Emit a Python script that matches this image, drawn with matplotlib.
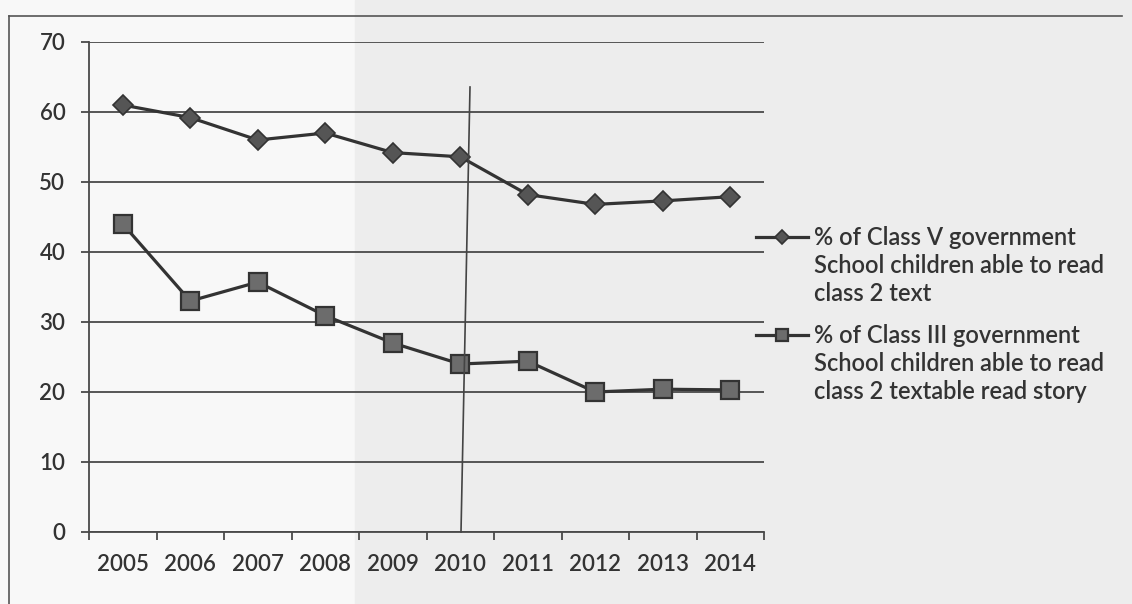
import matplotlib.pyplot as plt
from matplotlib.lines import Line2D
from matplotlib.patches import Rectangle
from matplotlib.legend_handler import HandlerLine2D
import matplotlib.transforms as mtransforms

years = ['2005', '2006', '2007', '2008', '2009', '2010', '2011', '2012', '2013', '2014']
class5 = [61.0, 59.2, 56.0, 57.0, 54.2, 53.6, 48.2, 46.8, 47.3, 47.9]
class3 = [44.0, 33.0, 35.7, 30.9, 27.0, 24.0, 24.4, 20.0, 20.4, 20.3]
label5 = '% of Class V government\nSchool children able to read\nclass 2 text'
label3 = '% of Class III government\nSchool children able to read\nclass 2 textable read story'

ink = '#333333'
txt = '#333333'
plt.rcParams['font.family'] = ['Lato', 'DejaVu Sans']
plt.rcParams['font.weight'] = 'semibold'

W, H = 1132, 604
fig = plt.figure(figsize=(W / 100, H / 100), dpi=100)
fig.patch.set_facecolor('#f8f8f8')

# page shading + frame around the chart
fig.add_artist(Rectangle((355 / W, 0), 1 - 355 / W, 1, transform=fig.transFigure,
                         color='#ededed', zorder=-5))
fig.add_artist(Line2D([9 / W, 1122 / W], [1 - 16 / H, 1 - 16 / H], transform=fig.transFigure,
                      color='#555555', lw=1.2))
fig.add_artist(Line2D([9 / W, 9 / W], [1 - 16 / H, 0], transform=fig.transFigure,
                      color='#555555', lw=1.2))

ax = fig.add_axes([89 / W, 1 - 532 / H, (764 - 89) / W, (532 - 42) / H])
ax.patch.set_alpha(0)

x = range(len(years))
ax.plot(x, class5, color=ink, lw=2.3, marker='D', ms=10, mfc='#555555', mec=ink, mew=1.2,
        label=label5, zorder=3)
ax.plot(x, class3, color=ink, lw=2.3, marker='s', ms=12.5, mfc='#6c6c6c', mec=ink, mew=1.6,
        label=label3, zorder=3)

ax.set_xlim(-0.5, len(years) - 0.5)
ax.set_ylim(0, 70)
ax.set_yticks(range(0, 71, 10))
ax.yaxis.grid(True, color='#4a4a4a', lw=1.3)
ax.set_axisbelow(True)
ax.set_xticks(list(x))
ax.set_xticklabels(years)
ax.set_xticks([i - 0.5 for i in range(len(years) + 1)], minor=True)
ax.tick_params(axis='x', which='major', length=0, pad=16, labelsize=16, labelcolor=txt)
ax.tick_params(axis='x', which='minor', length=6, width=1.3, color='#4a4a4a', direction='out')
ax.tick_params(axis='y', length=6, width=1.3, color='#4a4a4a', pad=11, labelsize=16,
               labelcolor=txt)
for s in ['top', 'right']:
    ax.spines[s].set_visible(False)
for s in ['left', 'bottom']:
    ax.spines[s].set_color('#4a4a4a')
    ax.spines[s].set_linewidth(1.3)

# stray vertical rule crossing the plot
fig.add_artist(Line2D([470 / W, 461 / W], [1 - 87 / H, 1 - 532 / H], transform=fig.transFigure,
                      color='#444444', lw=1.2))

line_sp = 1.27


class TopLineHandler(HandlerLine2D):
    # keep the sample next to the first line of a multi-line label
    def create_artists(self, legend, orig_handle, xdescent, ydescent, width, height,
                       fontsize, trans):
        arts = super().create_artists(legend, orig_handle, xdescent, ydescent, width,
                                      height, fontsize, trans)
        shift = mtransforms.Affine2D().translate(0, line_sp * fontsize)
        for a in arts:
            a.set_transform(shift + trans)
            a.set_markersize(orig_handle.get_markersize() * 0.72)
        return arts


h, l = ax.get_legend_handles_labels()
leg = ax.legend(h, l, loc='upper left', bbox_to_anchor=(744 / W, 1 - 214 / H),
                bbox_transform=fig.transFigure, frameon=False, fontsize=17,
                handlelength=2.2, handletextpad=0.25, labelspacing=0.8, borderpad=0,
                handler_map={Line2D: TopLineHandler()})
for t in leg.get_texts():
    t.set_color(txt)
    t.set_linespacing(line_sp)

fig.savefig('out.png', dpi=100, facecolor=fig.get_facecolor())
